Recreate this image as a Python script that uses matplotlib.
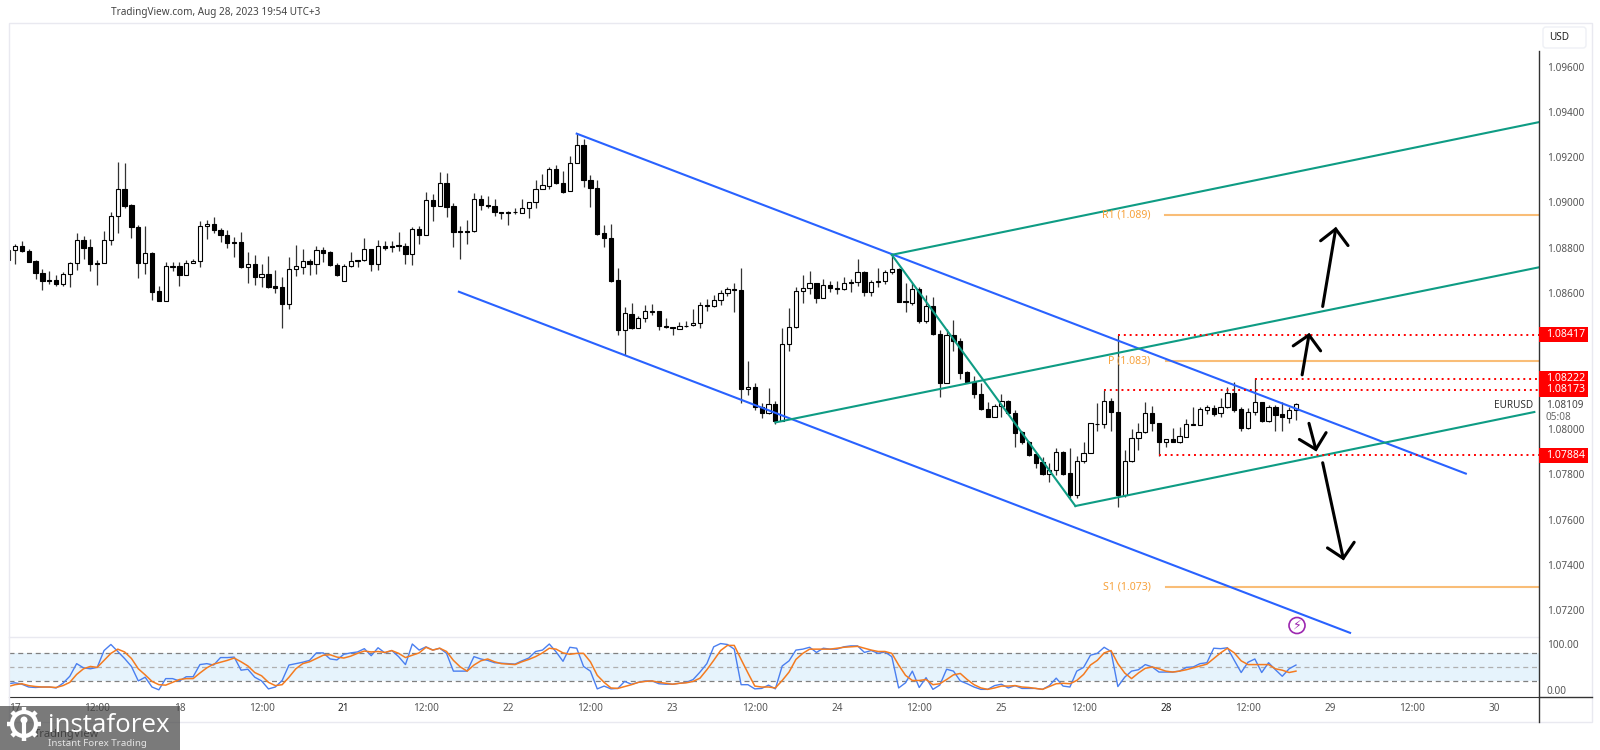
import matplotlib
matplotlib.use("Agg")
import matplotlib.pyplot as plt
from matplotlib.patches import Rectangle, Circle, FancyBboxPatch
import numpy as np

plt.rcParams['font.family'] = ['Noto Sans', 'DejaVu Sans']

# EURUSD H1 candles
opens = [1.08744,1.08790,1.08809,1.08787,1.08741,1.08690,1.08657,1.08656,1.08640,1.08683,
    1.08731,1.08834,1.08803,1.08734,1.08731,1.08833,1.08939,1.09061,1.08989,1.08893,
    1.08731,1.08778,1.08610,1.08566,1.08716,1.08718,1.08678,1.08731,1.08740,1.08895,
    1.08906,1.08878,1.08856,1.08825,1.08827,1.08716,1.08728,1.08671,1.08684,1.08630,
    1.08625,1.08550,1.08706,1.08716,1.08741,1.08728,1.08790,1.08781,1.08725,1.08655,
    1.08718,1.08744,1.08744,1.08794,1.08727,1.08809,1.08809,1.08811,1.08809,1.08771,
    1.08884,1.08855,1.09011,1.08985,1.09086,1.08985,1.08873,1.08875,1.08873,1.09014,
    1.08990,1.08983,1.08958,1.08958,1.08959,1.08955,1.08976,1.09001,1.09058,1.09074,
    1.09148,1.09086,1.09049,1.09173,1.09253,1.09099,1.09064,1.08864,1.08845,1.08659,
    1.08435,1.08509,1.08448,1.08488,1.08518,1.08520,1.08455,1.08451,1.08443,1.08454,
    1.08458,1.08467,1.08546,1.08543,1.08570,1.08599,1.08618,1.08613,1.08178,1.08185,
    1.08097,1.08069,1.08109,1.08037,1.08374,1.08449,1.08608,1.08624,1.08644,1.08580,
    1.08635,1.08624,1.08617,1.08644,1.08651,1.08694,1.08604,1.08648,1.08655,1.08692,
    1.08705,1.08564,1.08558,1.08617,1.08476,1.08543,1.08418,1.08205,1.08417,1.08389,
    1.08251,1.08209,1.08155,1.08087,1.08055,1.08100,1.08124,1.08071,1.07986,1.07944,
    1.07888,1.07855,1.07800,1.07819,1.07897,1.07804,1.07707,1.07857,1.07896,1.08020,
    1.08020,1.08124,1.08075,1.07710,1.07857,1.07959,1.07986,1.08070,1.08025,1.07941,
    1.07955,1.07941,1.07966,1.08021,1.08019,1.08083,1.08093,1.08070,1.08096,1.08158,
    1.08087,1.08003,1.08074,1.08117,1.08037,1.08096,1.08065,1.08050,1.08086]
closes = [1.08792,1.08809,1.08784,1.08738,1.08690,1.08655,1.08653,1.08638,1.08684,1.08733,
    1.08834,1.08800,1.08727,1.08727,1.08834,1.08940,1.09061,1.08986,1.08890,1.08731,
    1.08777,1.08607,1.08566,1.08718,1.08719,1.08678,1.08734,1.08741,1.08895,1.08905,
    1.08877,1.08855,1.08820,1.08820,1.08715,1.08728,1.08669,1.08684,1.08625,1.08624,
    1.08550,1.08706,1.08718,1.08741,1.08728,1.08790,1.08778,1.08722,1.08678,1.08721,
    1.08741,1.08740,1.08794,1.08727,1.08809,1.08800,1.08805,1.08808,1.08771,1.08884,
    1.08855,1.09011,1.08985,1.09086,1.08982,1.08871,1.08870,1.08870,1.09014,1.08989,
    1.08983,1.08958,1.08952,1.08952,1.08956,1.08976,1.09001,1.09060,1.09076,1.09148,
    1.09085,1.09048,1.09174,1.09253,1.09098,1.09062,1.08861,1.08842,1.08655,1.08435,
    1.08510,1.08447,1.08490,1.08520,1.08520,1.08453,1.08449,1.08446,1.08455,1.08456,
    1.08467,1.08546,1.08543,1.08570,1.08602,1.08620,1.08613,1.08178,1.08185,1.08099,
    1.08069,1.08109,1.08037,1.08374,1.08449,1.08608,1.08624,1.08644,1.08580,1.08635,
    1.08623,1.08617,1.08644,1.08651,1.08692,1.08604,1.08648,1.08655,1.08694,1.08705,
    1.08562,1.08559,1.08617,1.08476,1.08543,1.08418,1.08205,1.08417,1.08387,1.08249,
    1.08209,1.08155,1.08087,1.08055,1.08100,1.08123,1.08071,1.07984,1.07941,1.07885,
    1.07852,1.07800,1.07819,1.07897,1.07801,1.07707,1.07857,1.07896,1.08025,1.08024,
    1.08124,1.08074,1.07709,1.07857,1.07959,1.07986,1.08070,1.08027,1.07943,1.07955,
    1.07943,1.07968,1.08021,1.08018,1.08087,1.08095,1.08068,1.08098,1.08158,1.08084,
    1.08003,1.08074,1.08118,1.08037,1.08099,1.08064,1.08052,1.08086,1.08109]
highs = [1.08792,1.08818,1.08830,1.08794,1.08744,1.08706,1.08699,1.08681,1.08691,1.08736,
    1.08865,1.08852,1.08839,1.08744,1.08875,1.08956,1.09180,1.09176,1.08995,1.08901,
    1.08895,1.08783,1.08630,1.08737,1.08736,1.08737,1.08744,1.08752,1.08917,1.08924,
    1.08936,1.08887,1.08880,1.08849,1.08871,1.08780,1.08768,1.08730,1.08765,1.08703,
    1.08671,1.08761,1.08812,1.08794,1.08750,1.08809,1.08803,1.08784,1.08733,1.08727,
    1.08783,1.08747,1.08842,1.08794,1.08836,1.08828,1.08828,1.08871,1.08822,1.08892,
    1.08895,1.09045,1.09036,1.09135,1.09130,1.08998,1.08898,1.08921,1.09040,1.09033,
    1.09029,1.09014,1.08958,1.08961,1.08974,1.09014,1.09002,1.09099,1.09126,1.09157,
    1.09164,1.09138,1.09207,1.09304,1.09282,1.09121,1.09098,1.08902,1.08905,1.08710,
    1.08538,1.08557,1.08501,1.08548,1.08553,1.08523,1.08489,1.08451,1.08474,1.08477,
    1.08532,1.08561,1.08573,1.08592,1.08614,1.08629,1.08644,1.08713,1.08302,1.08202,
    1.08113,1.08181,1.08125,1.08448,1.08536,1.08629,1.08679,1.08697,1.08644,1.08664,
    1.08655,1.08655,1.08670,1.08661,1.08751,1.08697,1.08658,1.08710,1.08702,1.08764,
    1.08710,1.08644,1.08646,1.08629,1.08592,1.08582,1.08437,1.08440,1.08481,1.08400,
    1.08254,1.08235,1.08202,1.08121,1.08111,1.08155,1.08128,1.08084,1.07989,1.07947,
    1.07893,1.07875,1.07849,1.07915,1.07905,1.07915,1.07881,1.07943,1.08028,1.08114,
    1.08173,1.08139,1.08416,1.07908,1.07999,1.08025,1.08121,1.08102,1.08028,1.07956,
    1.08006,1.08008,1.08045,1.08096,1.08095,1.08105,1.08105,1.08136,1.08184,1.08207,
    1.08096,1.08092,1.08224,1.08121,1.08106,1.08106,1.08117,1.08096,1.08114]
lows = [1.08733,1.08730,1.08783,1.08736,1.08662,1.08615,1.08641,1.08630,1.08630,1.08627,
    1.08700,1.08750,1.08696,1.08634,1.08731,1.08812,1.08865,1.08974,1.08842,1.08666,
    1.08684,1.08569,1.08563,1.08566,1.08696,1.08631,1.08678,1.08731,1.08716,1.08839,
    1.08865,1.08824,1.08800,1.08758,1.08709,1.08643,1.08635,1.08625,1.08621,1.08600,
    1.08447,1.08532,1.08674,1.08684,1.08678,1.08685,1.08736,1.08721,1.08677,1.08653,
    1.08715,1.08715,1.08741,1.08696,1.08700,1.08789,1.08781,1.08784,1.08727,1.08724,
    1.08818,1.08855,1.08917,1.08983,1.08936,1.08802,1.08750,1.08818,1.08871,1.08965,
    1.08976,1.08942,1.08927,1.08901,1.08949,1.08954,1.08930,1.08977,1.09058,1.09058,
    1.09082,1.09043,1.09049,1.09173,1.09067,1.08982,1.08856,1.08805,1.08649,1.08413,
    1.08326,1.08442,1.08445,1.08474,1.08503,1.08438,1.08448,1.08414,1.08442,1.08452,
    1.08455,1.08445,1.08523,1.08540,1.08548,1.08585,1.08518,1.08113,1.08151,1.08084,
    1.08048,1.08068,1.08022,1.08035,1.08346,1.08448,1.08557,1.08596,1.08555,1.08580,
    1.08607,1.08596,1.08614,1.08605,1.08632,1.08585,1.08585,1.08626,1.08638,1.08685,
    1.08561,1.08518,1.08548,1.08467,1.08467,1.08415,1.08143,1.08203,1.08346,1.08222,
    1.08202,1.08136,1.08084,1.08052,1.08053,1.08053,1.08065,1.07922,1.07934,1.07881,
    1.07827,1.07797,1.07765,1.07796,1.07797,1.07694,1.07694,1.07849,1.07893,1.07989,
    1.08003,1.07989,1.07657,1.07701,1.07854,1.07908,1.07984,1.07989,1.07881,1.07919,
    1.07941,1.07937,1.07964,1.08018,1.08017,1.08067,1.08058,1.08055,1.08093,1.08077,
    1.07993,1.08000,1.08062,1.08033,1.08033,1.07991,1.07989,1.08025,1.08040]

# stochastic pane
stoch_k = [14,16,13,7,6,7,7,5,15,30,57,48,46,49,85,98,83,68,51,20,28,7,1,25,25,20,29,29,55,57,
    54,70,70,71,43,45,28,20,3,7,21,54,57,60,64,80,80,67,65,77,80,82,89,74,91,80,85,72,55,99,
    86,93,86,90,79,41,41,41,72,67,64,59,58,57,56,63,69,
    83,86,99,82,62,92,90,51,41,3,9,3,4,19,13,17,20,20,14,13,13,15,17,23,39,57,93,100,98,88,
    12,12,3,4,11,3,52,63,86,88,92,81,90,88,88,93,95,95,81,85,79,82,72,5,16,41,6,27,2,11,
    45,41,20,14,7,2,2,10,13,5,10,4,4,4,2,10,26,
    9,7,41,49,75,79,92,83,8,28,41,44,55,50,39,39,39,41,49,50,57,59,90,89,91,64,38,60,67,38,
    59,44,30,46,54]
stoch_d = [8,12,14,10,8,7,7,6,10,17,34,46,51,49,64,79,88,82,68,46,33,19,12,11,17,23,25,25,37,48,
    56,60,64,69,61,52,38,31,17,10,12,28,46,57,61,68,75,76,71,69,73,79,84,82,83,81,85,79,70,75,
    80,92,86,90,83,64,50,41,54,63,67,61,57,56,55,61,66,
    72,80,90,88,80,77,79,79,61,32,17,5,4,8,12,17,19,20,17,15,13,15,16,19,26,44,64,85,96,96,
    66,37,9,7,7,5,21,39,66,79,88,88,88,88,90,92,93,94,90,86,83,83,79,54,32,21,21,23,12,14,
    23,33,36,23,12,5,2,5,9,9,10,7,6,4,2,8,14,
    15,14,21,34,54,64,80,85,57,37,25,37,47,50,46,41,39,41,44,48,52,56,68,80,90,80,63,55,55,55,
    55,46,43,38,41]

# time axis: one bar an hour, trading days only
day_names = ["17", "18", "21", "22", "23", "24", "25", "28", "29", "30"]
price_ticks = [1.096, 1.094, 1.092, 1.09, 1.088, 1.086, 1.08, 1.078, 1.076, 1.074, 1.072]

# drawn channel lines (bar, price)
blue_lines = [([83, 212.8], [1.09304, 1.07803]), ([65.8, 195.9], [1.08606, 1.07100])]
green_lines = [([129, 223.5], [1.08769, 1.09355]), ([112, 223.5], [1.08029, 1.08714]),
               ([155.8, 222.8], [1.07660, 1.08075]), ([129, 155.8], [1.08769, 1.07660])]
levels = [1.08417, 1.08222, 1.08173, 1.07884]
level_starts = [162, 182, 160, 168]
pivots = [1.08945, 1.08300, 1.07303]
pivot_names = ["R1 (1.089)", "P (1.083)", "S1 (1.073)"]
# arrows: tail, wing, tip, wing
arrows = [
    ([191.9, 193.8], [1.08541, 1.08883], [191.6, 193.8, 195.6], [1.08831, 1.08883, 1.08810]),
    ([188.9, 189.9], [1.08239, 1.08415], [187.6, 189.9, 191.6], [1.08367, 1.08415, 1.08345]),
    ([189.9, 190.9], [1.08025, 1.07910], [188.5, 190.9, 192.4], [1.07954, 1.07910, 1.07984]),
    ([191.9, 194.9], [1.07851, 1.07429], [192.6, 194.9, 196.5], [1.07475, 1.07429, 1.07500]),
]

W, H = 1600, 750
PX_PRICE = 0.00004415


def box(left, top, right, bottom):
    return [left / W, 1 - bottom / H, (right - left) / W, (bottom - top) / H]


fig = plt.figure(figsize=(16, 7.5), dpi=100)
fig.patch.set_facecolor("white")

xlim = (0.124, 223.48)
ax = fig.add_axes(box(9, 23, 1539, 637))
ax.set_xlim(xlim)
ax.set_ylim(1.08 + (429 - 637) * PX_PRICE, 1.08 + (429 - 23) * PX_PRICE)
for s in ax.spines.values():
    s.set_visible(False)

bars = np.arange(len(opens))
op = np.array(opens)
cl = np.array(closes)
ax.vlines(bars, lows, highs, color="#333333", lw=0.9, zorder=2)
up = cl >= op
ax.bar(bars, np.maximum(np.abs(cl - op), 0.00002), bottom=np.minimum(op, cl), width=0.62,
       color=np.where(up, "white", "black"), edgecolor="black", lw=0.8, zorder=3)

for xs, ys in blue_lines:
    ax.plot(xs, ys, color="#2962ff", lw=1.5, zorder=4)
for xs, ys in green_lines:
    ax.plot(xs, ys, color="#0e9c84", lw=1.5, zorder=4)

for p, start, name in zip(pivots, [168.9, 169, 169], pivot_names):
    ax.plot([start, xlim[1]], [p, p], color="#f9bd77", lw=1.5, zorder=1)
    ax.text(166.8, p, name, color="#f7a23c", fontsize=7.6, ha="right", va="center", zorder=5)

for lv, start in zip(levels, level_starts):
    ax.plot([start, xlim[1]], [lv, lv], color="#ff0000", lw=1.4, ls=(0, (1, 2)), zorder=4)

for tx, ty, hx, hy in arrows:
    ax.plot(tx, ty, color="black", lw=2.2, solid_capstyle="round", zorder=6)
    ax.plot(hx, hy, color="black", lw=2.2, solid_capstyle="round", solid_joinstyle="miter", zorder=6)

ax.set_xticks([])
ax.yaxis.tick_right()
ax.set_yticks(price_ticks)
ax.set_yticklabels([f"{t:.5f}" for t in price_ticks], color="#555555", fontsize=7.2)
ax.tick_params(axis="y", length=0, pad=5.5)

# lower pane
ax2 = fig.add_axes(box(9, 637, 1539, 696.6))
ax2.set_xlim(xlim)
ax2.set_ylim(-13.5, 114)
for name, s in ax2.spines.items():
    s.set_visible(name == "bottom")
ax2.spines["bottom"].set_color("#333333")
ax2.axhspan(20, 80, color="#e6f3fc", lw=0, zorder=0)
for v, col in zip([80, 50, 20], ["#808080", "#b0b0b0", "#808080"]):
    ax2.axhline(v, color=col, lw=0.9, ls=(0, (4, 3)), zorder=1)
ax2.plot(bars, stoch_k, color="#4a7ff0", lw=1.0, zorder=2)
ax2.plot(bars, stoch_d, color="#f47b20", lw=1.1, zorder=3)
ax2.yaxis.tick_right()
ax2.set_yticks([100, 0])
ax2.set_yticklabels(["100.00", "0.00"], color="#555555", fontsize=7.2)
ax2.tick_params(axis="y", length=0, pad=5.5)

tick_pos, tick_txt, tick_col = [], [], []
for i, d in enumerate(day_names):
    tick_pos += [1 + 24 * i]
    tick_txt += [d]
    tick_col += ["#222222" if d in ("21", "28") else "#555555"]
    if i < len(day_names) - 1:
        tick_pos += [13 + 24 * i]
        tick_txt += ["12:00"]
        tick_col += ["#555555"]
ax2.set_xticks(tick_pos)
ax2.set_xticklabels(tick_txt, fontsize=7.2)
for lab, c in zip(ax2.get_xticklabels(), tick_col):
    lab.set_color(c)
ax2.tick_params(axis="x", length=0, pad=4.5)

# window chrome, logo and labels in pixel coordinates
ov = fig.add_axes([0, 0, 1, 1], zorder=10)
ov.set_xlim(0, W)
ov.set_ylim(H, 0)
ov.axis("off")
ov.patch.set_alpha(0)
frame = "#e9e9f0"
ov.add_patch(Rectangle((9, 23), 1583, 699, fill=False, ec=frame, lw=1))
ov.plot([9, 1539], [637, 637], color=frame, lw=1)
ov.plot([1539, 1539], [51, 722], color="#333333", lw=1)
ov.plot([1539, 1592], [696.6, 696.6], color="#333333", lw=1)
ov.add_patch(FancyBboxPatch((1545, 29), 39, 17, boxstyle="round,pad=2,rounding_size=3",
                            fc="white", ec="#eef0f5", lw=1))
ov.text(1559.5, 38, "USD", fontsize=7.2, color="#222222", ha="center", va="center")
ov.text(111, 13, "TradingView.com, Aug 28, 2023 19:54 UTC+3", fontsize=7.2, color="#444444",
        ha="left", va="center")
ov.text(1533, 406, "EURUSD", fontsize=7.2, color="#333333", ha="right", va="center")
ov.text(1546, 406, "1.08109", fontsize=7.2, color="#444444", ha="left", va="center")
ov.text(1546, 418, "05:08", fontsize=7.2, color="#666666", ha="left", va="center")

# red price tags
for lv in levels:
    y = 429 - (lv - 1.08) / PX_PRICE
    ov.add_patch(Rectangle((1539, y - 7.3), 49, 14.6, fc="#ff0000", ec="none", zorder=4))
for lv in levels:
    y = 429 - (lv - 1.08) / PX_PRICE
    ov.text(1546.5, y, f"{lv:.5f}", color="white", fontsize=7.6, fontweight="bold",
            ha="left", va="center", zorder=5)

# lightning icon
ov.add_patch(Circle((1297, 625.5), 8, fc="white", ec="#9c27b0", lw=1.2))
ov.text(1297, 625.5, "\u26a1", fontsize=9, color="#9c27b0", ha="center", va="center",
        family="DejaVu Sans")

# instaforex watermark, see-through over the axis labels
ov.text(34, 735, "TradingView", fontsize=8, color="#444444", ha="left", va="center")
ov.add_patch(Rectangle((0, 706), 180, 44, fc="#424242", ec="none", alpha=0.7, zorder=3))
for ang in np.arange(0, 360, 45):
    a = np.radians(ang)
    ov.plot([24 + 11 * np.cos(a), 24 + 17 * np.cos(a)], [724 + 11 * np.sin(a), 724 + 17 * np.sin(a)],
            color="white", lw=3.2, solid_capstyle="butt", zorder=4)
ov.add_patch(Circle((24, 724), 12, fc="none", ec="white", lw=3, zorder=4))
ov.add_patch(Circle((24, 720), 3.5, fc="white", ec="none", zorder=4))
ov.plot([24, 24], [723, 735], color="white", lw=3, zorder=4)
ov.text(48, 725, "instaforex", fontsize=18.6, color="white", ha="left", va="center",
        family="Open Sans", zorder=5)
ov.text(48.5, 743, "Instant Forex Trading", fontsize=7, color="#e4e4e4", ha="left", va="center", zorder=5)

fig.savefig("out.png", dpi=100)
